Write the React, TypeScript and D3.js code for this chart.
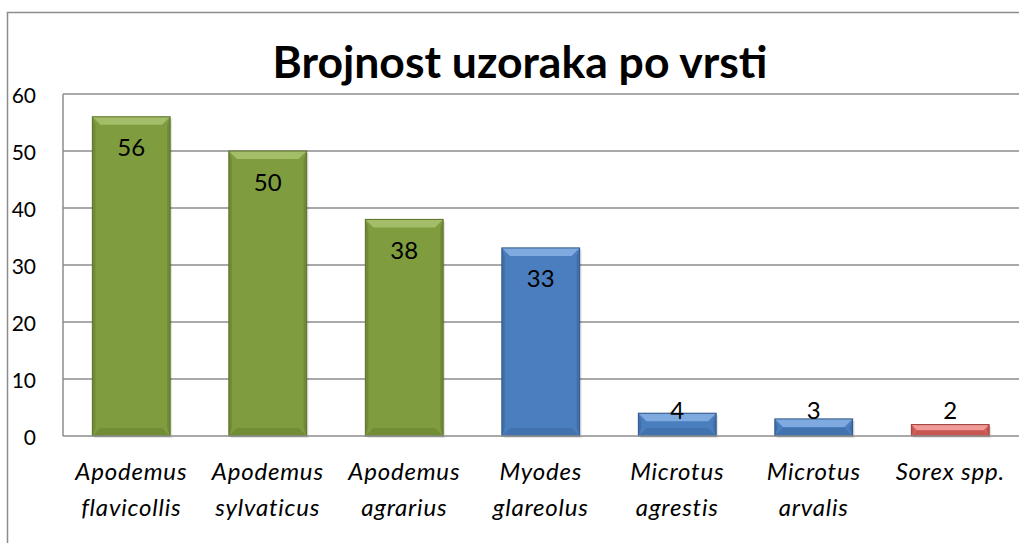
import React from 'react';
import * as d3 from 'd3';

const species = [
  'Apodemus flavicollis',
  'Apodemus sylvaticus',
  'Apodemus agrarius',
  'Myodes glareolus',
  'Microtus agrestis',
  'Microtus arvalis',
  'Sorex spp.',
];
const counts = [56, 50, 38, 33, 4, 3, 2];
const groups = ['green', 'green', 'green', 'blue', 'blue', 'blue', 'red'];
const yTicks = [0, 10, 20, 30, 40, 50, 60];

const palette: Record<string, { body: string; light: string; dark: string; edge: string }> = {
  green: { body: '#7f9c3f', light: '#a3bd68', dark: '#657e2e', edge: '#5a7028' },
  blue: { body: '#4a7ebe', light: '#7eaae0', dark: '#3a679f', edge: '#2f5686' },
  red: { body: '#d8615d', light: '#f09b97', dark: '#b34d4a', edge: '#9c3f3c' },
};

const W = 1019;
const H = 543;
const font = 'Lato, Carlito, sans-serif';

export default function App() {
  const left = 63;
  const right = 1018.5;
  const top = 94;
  const bottom = 436;

  const x = d3.scaleBand<string>().domain(species).range([left, right]).paddingInner(0.43).paddingOuter(0.215);
  const y = d3.scaleLinear().domain([0, 60]).range([bottom, top]);

  const bars = species.map((s, i) => {
    const x0 = x(s)!;
    const x1 = x0 + x.bandwidth();
    const y0 = y(counts[i]);
    const y1 = y(0);
    const h = y1 - y0;
    const b = Math.min(8, h / 2);
    const c = palette[groups[i]];
    return (
      <g key={s}>
        <rect x={x0 + 2} y={y0 + 2} width={x1 - x0} height={h} fill="#000" opacity={0.1} />
        <rect x={x0} y={y0} width={x1 - x0} height={h} fill={c.body} />
        {/* top bevel */}
        <polygon points={`${x0},${y0} ${x1},${y0} ${x1 - b},${y0 + b} ${x0 + b},${y0 + b}`} fill={c.light} />
        {/* bottom bevel */}
        <polygon points={`${x0},${y1} ${x1},${y1} ${x1 - b},${y1 - b} ${x0 + b},${y1 - b}`} fill={c.dark} opacity={0.5} />
        {/* sides */}
        <polygon points={`${x0},${y0} ${x0 + 3},${y0 + b} ${x0 + 3},${y1 - b} ${x0},${y1}`} fill={c.dark} opacity={0.6} />
        <polygon points={`${x1},${y0} ${x1 - 3},${y0 + b} ${x1 - 3},${y1 - b} ${x1},${y1}`} fill={c.dark} opacity={0.6} />
        <rect x={x0} y={y0} width={x1 - x0} height={h} fill="none" stroke={c.edge} strokeWidth={1} />
        <text
          x={x0 + x.bandwidth() / 2}
          y={Math.min(y0 + 30, 409)}
          textAnchor="middle"
          dominantBaseline="central"
          fontFamily={font}
          fontSize={24}
          fill="#000"
        >
          {counts[i]}
        </text>
      </g>
    );
  });

  return (
    <svg width={W} height={H} style={{ position: 'absolute', left: 0, top: 0, background: '#fff' }}>
      <rect x={7.5} y={12.5} width={1100} height={600} fill="#fff" stroke="#8c8c8c" strokeWidth={1.5} />
      <text x={520} y={78} textAnchor="middle" fontFamily={font} fontWeight="bold" fontSize={44.5} fill="#000">
        Brojnost uzoraka po vrsti
      </text>
      {yTicks.map((t) => (
        <g key={t}>
          {t > 0 && <line x1={left} x2={W} y1={y(t)} y2={y(t)} stroke="#8c8c8c" strokeWidth={1.5} />}
          <text x={36} y={y(t)} textAnchor="end" dominantBaseline="central" fontFamily={font} fontSize={21} fill="#000">
            {t}
          </text>
        </g>
      ))}
      <line x1={left} x2={left} y1={top} y2={bottom} stroke="#8c8c8c" strokeWidth={1.5} />
      {bars}
      <line x1={left} x2={W} y1={bottom} y2={bottom} stroke="#8c8c8c" strokeWidth={1.5} />
      {species.map((s) => {
        const words = s.split(' ');
        const cx = x(s)! + x.bandwidth() / 2;
        const lines = s === 'Sorex spp.' ? [s] : words;
        return (
          <text key={s} textAnchor="middle" fontFamily={font} fontStyle="italic" fontSize={24} letterSpacing={0.8} fill="#000">
            {lines.map((l, j) => (
              <tspan key={j} x={cx} y={480 + j * 36}>
                {l}
              </tspan>
            ))}
          </text>
        );
      })}
    </svg>
  );
}
